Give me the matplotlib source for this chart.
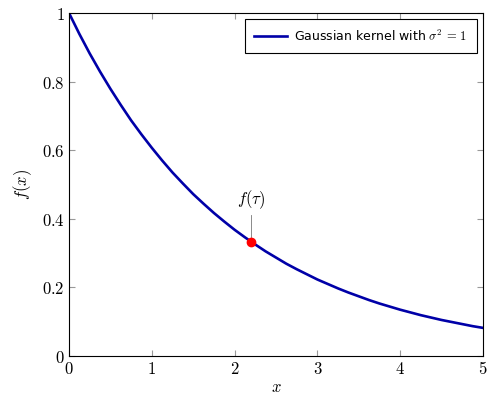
import matplotlib
matplotlib.use('Agg')
import matplotlib.pyplot as plt

# values
x_vals = [0.0, 0.125, 0.25, 0.375, 0.5, 0.625, 0.75, 0.875, 1.0, 1.125, 1.25,
          1.375, 1.5, 1.625, 1.75, 1.875, 2.0, 2.125, 2.25, 2.375, 2.5,
          2.625, 2.75, 2.875, 3.0, 3.125, 3.25, 3.375, 3.5, 3.625, 3.75,
          3.875, 4.0, 4.125, 4.25, 4.375, 4.5, 4.625, 4.75, 4.875, 5.0]
f_vals = [1.000, 0.939, 0.882, 0.829, 0.779, 0.732, 0.687, 0.646, 0.607, 0.570, 0.535,
          0.503, 0.472, 0.444, 0.417, 0.392, 0.368, 0.346, 0.325, 0.305, 0.287,
          0.269, 0.253, 0.238, 0.223, 0.210, 0.197, 0.185, 0.174, 0.163, 0.153,
          0.144, 0.135, 0.127, 0.119, 0.112, 0.105, 0.099, 0.093, 0.087, 0.082]
tau = 2.2
f_tau = 0.333
x_ticks = [0, 1, 2, 3, 4, 5]
y_ticks = [0, 0.2, 0.4, 0.6, 0.8, 1]

plt.rcParams['mathtext.fontset'] = 'cm'

fig = plt.figure(figsize=(4.87, 3.95), dpi=100)
ax = fig.add_axes([69 / 487, 39 / 395, 414 / 487, 343 / 395])

ax.plot(x_vals, f_vals, color='#0000a8', linewidth=1.9,
        label=r'Gaussian kernel with $\sigma^2\,=\,1$')
ax.plot([tau], [f_tau], 'o', color='#ff0000', markersize=6, zorder=5)
ax.plot([tau, tau], [f_tau, 0.41], color='#777777', linewidth=0.6)
ax.text(tau, 0.455, r'$f(\tau)$', ha='center', va='center', fontsize=12)

ax.set_xlim(0, 5)
ax.set_ylim(0, 1)
ax.set_xticks(x_ticks)
ax.set_yticks(y_ticks)
ax.set_xticklabels([f'${t}$' for t in x_ticks], fontsize=12)
ax.set_yticklabels(['$0$', '$0.2$', '$0.4$', '$0.6$', '$0.8$', '$1$'], fontsize=12)
ax.tick_params(direction='in', length=4, width=0.8, color='#999999',
               top=True, right=True, pad=3)
ax.set_xlabel('$x$', fontsize=12, labelpad=0)
ax.set_ylabel('$f(x)$', fontsize=12, labelpad=6)
for s in ax.spines.values():
    s.set_linewidth(0.8)

leg = ax.legend(loc='upper right', fancybox=False, edgecolor='black',
                framealpha=1, handlelength=2.6, borderpad=0.75, handletextpad=0.6,
                prop={'family': 'DejaVu Sans', 'size': 9})
leg.get_frame().set_linewidth(0.8)

fig.savefig('out.png', dpi=100)
